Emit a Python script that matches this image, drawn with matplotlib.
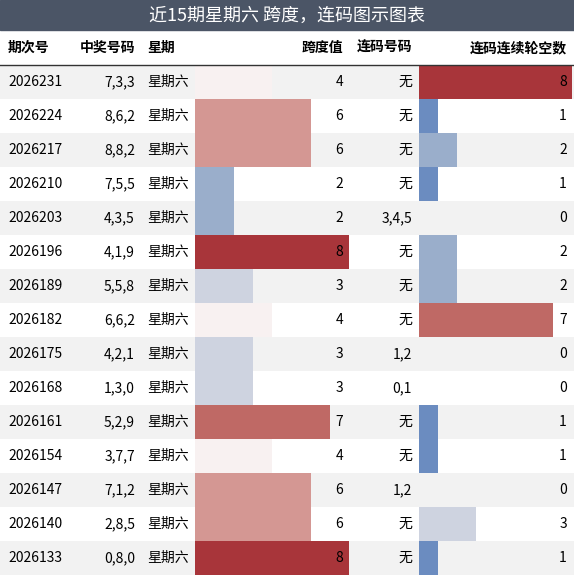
import matplotlib
matplotlib.use("Agg")
import matplotlib.pyplot as plt
from matplotlib.colors import LinearSegmentedColormap

plt.rcParams['font.family'] = ['Noto Sans CJK SC', 'DejaVu Sans']

issues = ["2026231","2026224","2026217","2026210","2026203","2026196","2026189","2026182",
          "2026175","2026168","2026161","2026154","2026147","2026140","2026133"]
numbers = ["7,3,3","8,6,2","8,8,2","7,5,5","4,3,5","4,1,9","5,5,8","6,6,2",
           "4,2,1","1,3,0","5,2,9","3,7,7","7,1,2","2,8,5","0,8,0"]
weekday = ["星期六"]*15
spans = [4,6,6,2,2,8,3,4,3,3,7,4,6,6,8]
consec = ["无","无","无","无","3,4,5","无","无","无","1,2","0,1","无","无","1,2","无","无"]
gaps = [8,1,2,1,0,2,2,7,0,0,1,1,0,3,1]
headers = ["期次号","中奖号码","星期","跨度值","连码号码","连码连续轮空数"]
title = "近15期星期六 跨度，连码图示图表"

cmap = LinearSegmentedColormap.from_list("d", [
    (0/8, "#4a72b0"), (1/8, "#6b8cc0"), (2/8, "#9aaecb"), (3/8, "#cdd3e0"),
    (4/8, "#f8f2f2"), (6/8, "#d49894"), (7/8, "#c06a66"), (8/8, "#a8353a")])

fig = plt.figure(figsize=(5.74, 5.76), dpi=100)
ax = fig.add_axes([0, 0, 1, 1])
ax.set_xlim(0, 574); ax.set_ylim(576, 0); ax.axis("off")

ax.add_patch(plt.Rectangle((0, 0), 574, 30, color="#4b5566"))
ax.text(287, 16, title, color="white", fontsize=13, ha="center", va="center")

hy = 48
ax.text(8, hy, headers[0], ha="left", va="center", fontsize=10, weight="bold")
ax.text(135, hy, headers[1], ha="right", va="center", fontsize=10, weight="bold")
ax.text(147, hy, headers[2], ha="left", va="center", fontsize=10, weight="bold")
ax.text(343, hy, headers[3], ha="right", va="center", fontsize=10, weight="bold")
ax.text(412, hy, headers[4], ha="right", va="center", fontsize=10, weight="bold")
ax.text(567, hy, headers[5], ha="right", va="center", fontsize=10, weight="bold")
ax.plot([0, 574], [64.5, 64.5], color="#333333", lw=1)

top, rh = 65, 34
for i in range(15):
    y0 = top + i * rh
    yc = y0 + rh / 2
    if i % 2 == 0:
        ax.add_patch(plt.Rectangle((0, y0), 574, rh, color="#f2f2f2", lw=0))
    ax.add_patch(plt.Rectangle((195, y0), spans[i] / 8 * 154, rh, color=cmap(spans[i] / 8), lw=0))
    ax.add_patch(plt.Rectangle((419, y0), gaps[i] / 8 * 153, rh, color=cmap(gaps[i] / 8), lw=0))
    ax.text(8, yc, issues[i], ha="left", va="center", fontsize=10)
    ax.text(135, yc, numbers[i], ha="right", va="center", fontsize=10)
    ax.text(147, yc, weekday[i], ha="left", va="center", fontsize=10)
    ax.text(343, yc, str(spans[i]), ha="right", va="center", fontsize=10)
    ax.text(412, yc, consec[i], ha="right", va="center", fontsize=10)
    ax.text(567, yc, str(gaps[i]), ha="right", va="center", fontsize=10)

fig.savefig("out.png", dpi=100)
